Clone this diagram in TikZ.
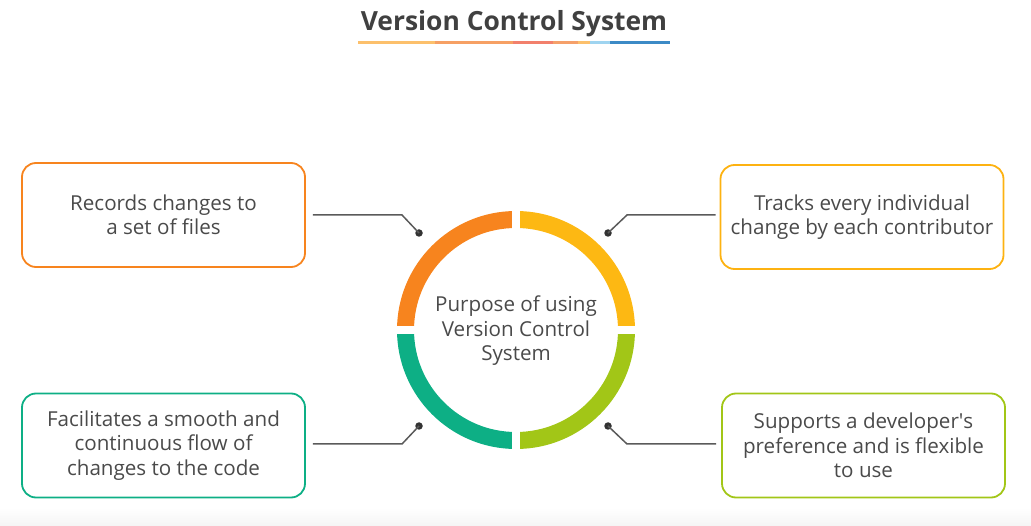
\documentclass[tikz,border=0pt]{standalone}
\usepackage{fontspec}
\setmainfont{Open Sans}
\usetikzlibrary{positioning, calc}
\definecolor{txtgray}{HTML}{4A4A4A}
\definecolor{lnkgray}{HTML}{5A5A5A}
\definecolor{vcorange}{HTML}{F7841E}
\definecolor{vcyellow}{HTML}{FDB813}
\definecolor{vclime}{HTML}{A2C617}
\definecolor{vcteal}{HTML}{0DAF85}
\tikzset{
        x=1pt, y=-1pt, % pixel grid, y downwards
        infobox/.style={draw, line width=1.8pt, rounded corners=14pt,
                minimum width=283pt, minimum height=104pt, align=center,
                text=txtgray, font=\fontsize{20.6}{24.5}\selectfont},
        link/.style={draw=lnkgray, line width=1.5pt},
        pin/.style={circle, fill=black!80, inner sep=0pt, minimum size=7.5pt},
        ring/.style={line width=17pt}
        }
\begin{document}
\begin{tikzpicture}
        \useasboundingbox (0,0) rectangle (1031,526);
        \shade[top color=white, bottom color=black!4] (0,508) rectangle (1031,526);
        % title
        \node[font=\bfseries\fontsize{26.4}{30}\selectfont, text=black!75](title) at (514,24){Version Control System};
        \foreach \xa/\xb/\col in {358/435/FCC06C, 435/513/F6A064, 513/553/F2806C, 553/578/F5A06A, 578/590/FCC06C, 590/610/9FD4F0, 610/670/3C8AC6}{
              \definecolor{segcol}{HTML}{\col}
              \draw[line width=3pt, segcol] (\xa,43) -- (\xb,43);
        }
        % ring
        \coordinate (c) at (516,330);
        \draw[ring, vcorange] ($(c)+(-110.5,0)$) arc[start angle=180, end angle=270, radius=110.5];
        \draw[ring, vcyellow] ($(c)+(0,-110.5)$) arc[start angle=270, end angle=360, radius=110.5];
        \draw[ring, vclime] ($(c)+(110.5,0)$) arc[start angle=0, end angle=90, radius=110.5];
        \draw[ring, vcteal] ($(c)+(0,110.5)$) arc[start angle=90, end angle=180, radius=110.5];
        \foreach \dx/\dy in {0/-1, 0/1, -1/0, 1/0}
              \draw[white, line width=8pt] ($(c)+(95*\dx,95*\dy)$) -- ($(c)+(128*\dx,128*\dy)$);
        \node[text=txtgray, align=center, font=\fontsize{20.6}{24.5}\selectfont](hub) at (516,331){Purpose of using\\Version Control\\System};
        % boxes
        \node[infobox, draw=vcorange](rec) at (163.5,215){Records changes to\\a set of files};
        \node[infobox, draw=vcyellow!90!orange](trk) at (862,217){Tracks every individual\\change by each contributor};
        \node[infobox, draw=vcteal](fac) at (163.5,445.5){Facilitates a smooth and\\continuous flow of\\changes to the code};
        \node[infobox, draw=vclime](sup) at (863.5,445.5){Supports a developer\textquotesingle s\\preference and is flexible\\to use};
        % pins and links
        \node[pin](p1) at (419,233){};
        \node[pin](p2) at (608,233){};
        \node[pin](p3) at (419,426){};
        \node[pin](p4) at (608,426){};
        \draw[link] ([xshift=7pt]rec.east |- 0,215) -- (402,215) -- (p1.center);
        \draw[link] ([xshift=-4pt]trk.west |- 0,215) -- (627,215) -- (p2.center);
        \draw[link] ([xshift=7pt]fac.east |- 0,444) -- (402,444) -- (p3.center);
        \draw[link] ([xshift=-5pt]sup.west |- 0,444) -- (627,444) -- (p4.center);
\end{tikzpicture}
\end{document}
